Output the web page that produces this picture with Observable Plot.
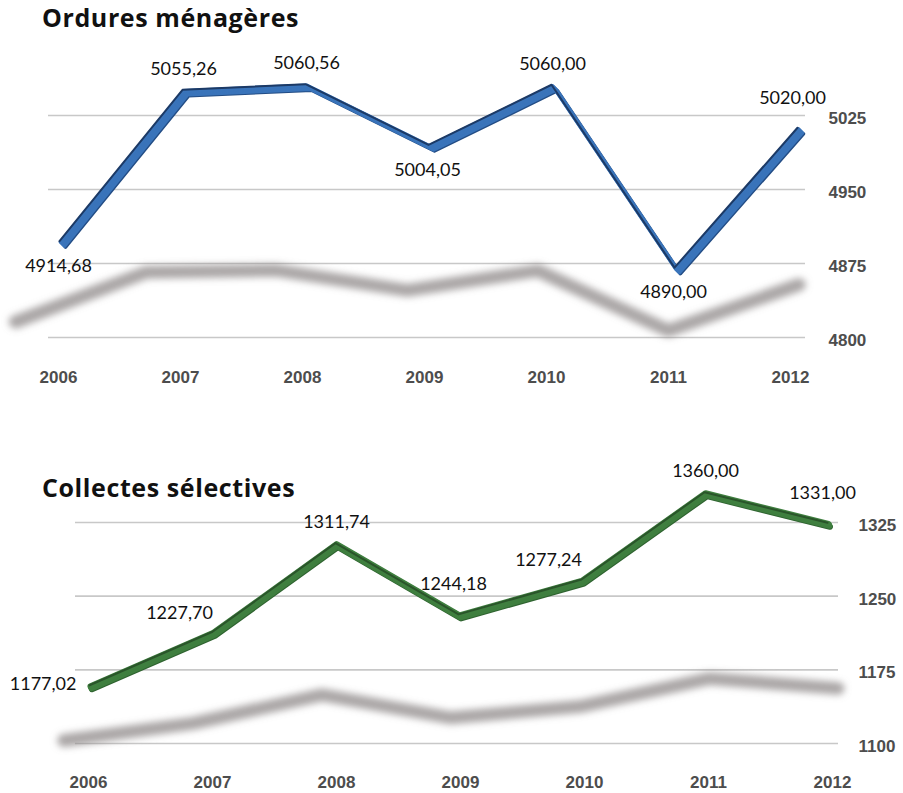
<!DOCTYPE html>
<html><head><meta charset="utf-8">
<script src="https://cdn.jsdelivr.net/npm/d3@7"></script>
<script src="https://cdn.jsdelivr.net/npm/@observablehq/plot@0.6"></script>
<style>
body{margin:0;background:#fff;}
.block{position:relative;width:903px;overflow:hidden;}
.block svg{position:absolute;left:0;top:0;}
.title{position:absolute;font-family:"Open Sans",sans-serif;font-weight:700;font-size:25px;letter-spacing:0.6px;line-height:28px;color:#111;white-space:nowrap;z-index:2;}
</style></head><body>
<div id="top" class="block" style="height:400px"><div class="title" style="left:42px;top:3px">Ordures ménagères</div></div>
<div id="bot" class="block" style="height:393px"><div class="title" style="left:42px;top:73px">Collectes sélectives</div></div>
<script>
// ---- data ----
const years = ["2006", "2007", "2008", "2009", "2010", "2011", "2012"];
const ordures = [4914.68, 5055.26, 5060.56, 5004.05, 5060.00, 4890.00, 5020.00];
const collectes = [1177.02, 1227.70, 1311.74, 1244.18, 1277.24, 1360.00, 1331.00];
const orduresTicks = [4800, 4875, 4950, 5025];
const collectesTicks = [1100, 1175, 1250, 1325];
const orduresPlacement = ["below", "above", "above", "below", "above", "below", "high"];
const collectesPlacement = ["left", "aboveLeft", "above", "high", "aboveLeft", "above", "high"];

// ---- rendering ----
const fr = d3.formatLocale({decimal: ",", thousands: "", grouping: [3], currency: ["", ""]}).format(".2f");
const placeOffsets = {
  above: {dx: 0, dy: -22, textAnchor: "middle"},
  high: {dx: -6, dy: -31, textAnchor: "middle"},
  below: {dx: -2, dy: 24, textAnchor: "middle"},
  left: {dx: -14, dy: -2, textAnchor: "end"},
  aboveLeft: {dx: -34, dy: -20, textAnchor: "middle"}
};
const NS = "http://www.w3.org/2000/svg";

function table(values, placement) {
  return years.map((year, i) => ({year, value: values[i], place: placement[i], shadow: 0}));
}

function addBlur(svg, id, w, h, sd) {
  const defs = document.createElementNS(NS, "defs");
  const f = document.createElementNS(NS, "filter");
  f.setAttribute("id", id);
  f.setAttribute("filterUnits", "userSpaceOnUse");
  f.setAttribute("x", "-50"); f.setAttribute("y", "-50");
  f.setAttribute("width", String(w + 100)); f.setAttribute("height", String(h + 100));
  const b = document.createElementNS(NS, "feGaussianBlur");
  b.setAttribute("in", "SourceGraphic");
  b.setAttribute("stdDeviation", String(sd));
  f.appendChild(b); defs.appendChild(f);
  svg.appendChild(defs);
}

function drawBlock(cfg) {
  const data = table(cfg.values, cfg.placement);
  data.forEach(d => d.shadow = cfg.shadow(d.value));
  const lo = cfg.ticks[0], hi = cfg.ticks[cfg.ticks.length - 1];
  const axisFont = {fontSize: 17, fontWeight: "bold", fill: "#4d4d4d", fontFamily: "Liberation Sans, Arial, sans-serif"};
  const back = Plot.plot({
    width: 903, height: cfg.height,
    marginLeft: cfg.gridLeft, marginRight: 903 - cfg.gridRight, marginTop: 0, marginBottom: cfg.height - cfg.backRange[0],
    x: {type: "point", domain: years, range: cfg.backX, padding: 0},
    y: {domain: [lo, hi], range: cfg.backRange},
    marks: [
      Plot.ruleY(cfg.ticks, {stroke: "#c8c8c8", strokeWidth: 1.6}),
      Plot.line(data, {x: "year", y: "shadow", stroke: "#8a8585", strokeWidth: 13, strokeOpacity: 0.72}),
      Plot.axisY(cfg.ticks, {anchor: "right", tickSize: 0, tickPadding: cfg.yPad, label: null, tickFormat: d3.format("d"), dy: 3, ...axisFont}),
      Plot.axisX(years, {anchor: "bottom", tickSize: 0, tickPadding: cfg.xPad, label: null, ...axisFont})
    ]
  });
  const fid = cfg.id + "-blur";
  addBlur(back, fid, 903, cfg.height, 3.5);
  const sp = back.querySelector("path");
  if (sp) {
    sp.setAttribute("transform", `translate(${cfg.shadowCx},0) scale(${cfg.shadowK},1) translate(${-cfg.shadowCx},0)`);
    sp.parentNode.setAttribute("filter", `url(#${fid})`);
  }

  const textMarks = Object.entries(placeOffsets).map(([k, o]) =>
    Plot.text(data.filter(d => d.place === k), {x: "year", y: "value", text: d => fr(d.value),
      dx: o.dx, dy: o.dy, textAnchor: o.textAnchor, fontSize: 18, fontFamily: "Lato, sans-serif", fill: "#111"}));

  // ribbon body: the same series stroked at successive depth offsets
  const ribbon = d3.range(cfg.depth + 1).map(k =>
    Plot.line(data, {x: "year", y: "value", stroke: k === cfg.depth ? cfg.dark : cfg.color,
      strokeWidth: cfg.bodyWidth, dx: k * cfg.ddx, dy: k * cfg.ddy, strokeLinejoin: "round"})).reverse();

  const front = Plot.plot({
    width: 903, height: cfg.height,
    marginLeft: 0, marginRight: 0, marginTop: 0, marginBottom: 0,
    x: {type: "point", domain: years, range: cfg.frontX, padding: 0, axis: null},
    y: {domain: cfg.frontDomain, range: cfg.frontRange, axis: null},
    marks: [
      ...ribbon,
      Plot.line(data, {x: "year", y: "value", stroke: cfg.edge, strokeWidth: 2, dx: -1, dy: -1, strokeLinejoin: "round"}),
      ...textMarks
    ]
  });
  front.style.background = "transparent";
  back.style.background = "transparent";
  const el = document.getElementById(cfg.id);
  el.appendChild(back);
  el.appendChild(front);
}

drawBlock({
  id: "top", height: 400, values: ordures, placement: orduresPlacement, ticks: orduresTicks,
  gridLeft: 48, gridRight: 805, backRange: [337, 115], backX: [58, 790], yPad: 23, xPad: 33,
  shadow: v => 4807 + (v - 4890) * 0.358, shadowCx: 670, shadowK: 1.07,
  frontX: [58, 800], frontDomain: [4800, 5060], frontRange: [365, 365 - 260 * 1.076],
  color: "#3a74ba", dark: "#234d85", edge: "#1c3a66", depth: 5, ddx: 1, ddy: 1, bodyWidth: 3.5
});
drawBlock({
  id: "bot", height: 393, values: collectes, placement: collectesPlacement, ticks: collectesTicks,
  gridLeft: 75, gridRight: 838, backRange: [343, 122], backX: [88, 832], yPad: 20, xPad: 32,
  shadow: v => 1103 + (v - 1177) * 0.345, shadowCx: 700, shadowK: 1.04,
  frontX: [88, 830], frontDomain: [1100, 1360], frontRange: [367, 367 - 260 * 1.055],
  color: "#3f7f3f", dark: "#2f6330", edge: "#2a552a", depth: 3, ddx: 0.5, ddy: 1, bodyWidth: 6
});
</script>
</body></html>
